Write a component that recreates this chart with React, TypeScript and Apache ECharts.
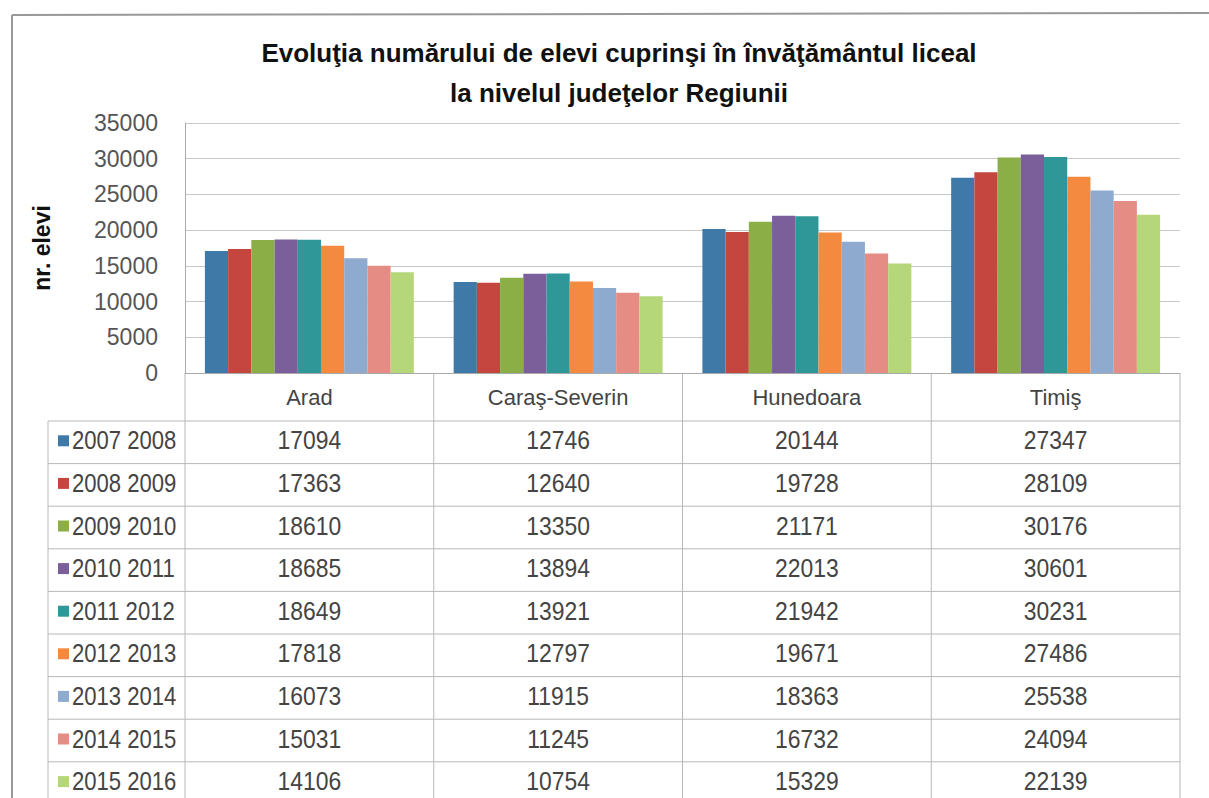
import React, { useEffect, useRef } from "react";
import * as echarts from "echarts";

const categories = ["Arad", "Caraş-Severin", "Hunedoara", "Timiş"];
const seriesNames = [
  "2007 2008",
  "2008 2009",
  "2009 2010",
  "2010 2011",
  "2011 2012",
  "2012 2013",
  "2013 2014",
  "2014 2015",
  "2015 2016",
];
const s2007 = [17094, 12746, 20144, 27347];
const s2008 = [17363, 12640, 19728, 28109];
const s2009 = [18610, 13350, 21171, 30176];
const s2010 = [18685, 13894, 22013, 30601];
const s2011 = [18649, 13921, 21942, 30231];
const s2012 = [17818, 12797, 19671, 27486];
const s2013 = [16073, 11915, 18363, 25538];
const s2014 = [15031, 11245, 16732, 24094];
const s2015 = [14106, 10754, 15329, 22139];
const seriesValues = [s2007, s2008, s2009, s2010, s2011, s2012, s2013, s2014, s2015];
const yTicks = { min: 0, max: 35000, interval: 5000 };

const colors = [
  "#3F79A8",
  "#C4463F",
  "#8CAE46",
  "#7A5F9B",
  "#2F9797",
  "#F38A3F",
  "#8EAACF",
  "#E58D84",
  "#B6D67A",
];

const FONT = "'Liberation Sans Narrow', 'Arial Narrow', 'Liberation Sans', Arial, sans-serif";
const TEXT = "#444";

export default function App() {
  const ref = useRef<HTMLDivElement>(null);
  useEffect(() => {
    if (!ref.current) return;
    const chart = echarts.init(ref.current, undefined, { renderer: "svg" });
    const gridLeft = 185;
    const gridRight = 1180;
    const gridTop = 123;
    const gridBottom = 373;
    chart.setOption({
      animation: false,
      color: colors,
      title: {
        text: "Evoluţia numărului de elevi cuprinşi în învăţământul liceal\nla nivelul judeţelor Regiunii",
        left: 614,
        top: 28,
        textAlign: "center",
        textStyle: {
          fontFamily: FONT,
          fontWeight: "bold",
          fontSize: 26,
          lineHeight: 40,
          color: "#111",
        },
      },
      grid: {
        left: gridLeft,
        top: gridTop,
        width: gridRight - gridLeft,
        height: gridBottom - gridTop,
        containLabel: false,
      },
      xAxis: {
        type: "category",
        data: categories,
        axisLine: { show: true, lineStyle: { color: "#aaa", width: 1 } },
        axisTick: { show: false },
        axisLabel: {
          margin: 13,
          fontFamily: FONT,
          fontSize: 22,
          color: TEXT,
        },
        splitLine: { show: false },
      },
      yAxis: {
        type: "value",
        min: yTicks.min,
        max: yTicks.max,
        interval: yTicks.interval,
        name: "nr. elevi",
        nameLocation: "middle",
        nameGap: 132,
        nameTextStyle: {
          fontFamily: FONT,
          fontWeight: "bold",
          fontSize: 23,
          color: "#111",
        },
        axisLine: { show: true, lineStyle: { color: "#aaa" } },
        axisTick: { show: false },
        axisLabel: {
          margin: 27,
          fontFamily: FONT,
          fontSize: 23,
          color: "#555",
          formatter: (v: number) => String(v),
        },
        splitLine: { show: true, lineStyle: { color: "#c8c8c8", width: 1 } },
      },
      series: seriesNames.map((name, i) => ({
        name,
        type: "bar",
        data: seriesValues[i],
        barGap: "0%",
        barCategoryGap: "16%",
        itemStyle: { color: colors[i] },
      })),
    });

    // Data table drawn below the axis, positioned through the axis scale
    const colCenters = categories.map((c) => chart.convertToPixel({ xAxisIndex: 0 }, c) as number);
    const half = (colCenters[1] - colCenters[0]) / 2;
    const colEdges = [colCenters[0] - half, ...colCenters.map((c) => c + half)];
    const tableLeft = 48;
    const rowTop = 421;
    const rowH = 42.6;
    const lineColor = "#b8b8b8";
    const elements: any[] = [];
    // frame
    elements.push({
      type: "line",
      shape: { x1: 12, y1: 15, x2: 1209, y2: 13 },
      style: { stroke: "#999", lineWidth: 2 },
    });
    elements.push({
      type: "line",
      shape: { x1: 12, y1: 15, x2: 12, y2: 798 },
      style: { stroke: "#999", lineWidth: 2 },
    });
    // horizontal lines
    for (let r = 0; r <= seriesNames.length; r++) {
      const y = rowTop + r * rowH;
      elements.push({
        type: "line",
        shape: { x1: tableLeft, y1: y, x2: colEdges[colEdges.length - 1], y2: y },
        style: { stroke: lineColor, lineWidth: 1 },
      });
    }
    // vertical lines
    elements.push({
      type: "line",
      shape: { x1: tableLeft, y1: rowTop, x2: tableLeft, y2: 798 },
      style: { stroke: lineColor, lineWidth: 1 },
    });
    colEdges.forEach((x) => {
      elements.push({
        type: "line",
        shape: { x1: x, y1: gridBottom, x2: x, y2: 798 },
        style: { stroke: lineColor, lineWidth: 1 },
      });
    });
    // legend keys + values
    seriesNames.forEach((name, r) => {
      const cy = rowTop + r * rowH + rowH / 2 - 2;
      elements.push({
        type: "rect",
        shape: { x: 58, y: cy - 5, width: 11, height: 11 },
        style: { fill: colors[r] },
      });
      elements.push({
        type: "text",
        x: 72,
        y: cy,
        scaleX: 0.85,
        style: {
          text: name,
          fontFamily: FONT,
          fontSize: 26,
          fill: TEXT,
          verticalAlign: "middle",
        },
      });
      seriesValues[r].forEach((v, c) => {
        elements.push({
          type: "text",
          x: colCenters[c],
          y: cy,
          scaleX: 0.88,
          style: {
            text: String(v),
            fontFamily: FONT,
            fontSize: 26,
            fill: TEXT,
            align: "center",
            verticalAlign: "middle",
          },
        });
      });
    });
    chart.setOption({ graphic: { elements } });
    return () => chart.dispose();
  }, []);
  return (
    <div
      ref={ref}
      style={{ position: "fixed", left: 0, top: 0, width: 1209, height: 798, background: "#fff" }}
    />
  );
}
